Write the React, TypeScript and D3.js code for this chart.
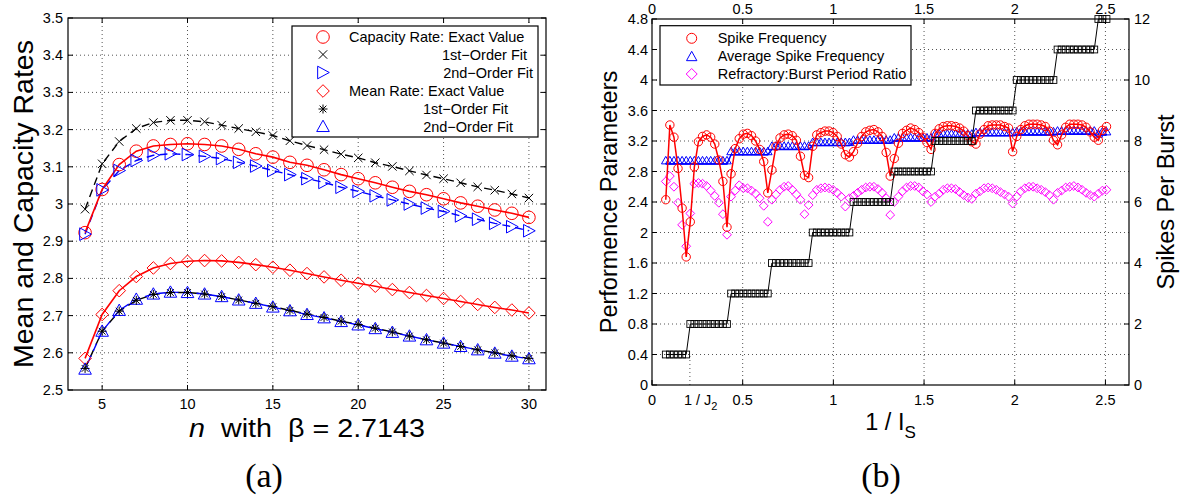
import React from "react";
import * as d3 from "d3";

const W = 1186;
const H = 500;
const SANS = "'Liberation Sans', Arial, Helvetica, sans-serif";
const SERIF = "'Liberation Serif', 'Times New Roman', serif";

// ---------- panel (a): rates versus n ----------
const nValues = [4, 5, 6, 7, 8, 9, 10, 11, 12, 13, 14, 15, 16, 17, 18, 19, 20, 21, 22, 23, 24, 25, 26, 27, 28, 29, 30];
const capacityExact = [2.923, 3.039, 3.106, 3.142, 3.156, 3.160, 3.162, 3.160, 3.156, 3.147, 3.135, 3.126, 3.112, 3.104, 3.092, 3.079, 3.068, 3.057, 3.045, 3.034, 3.025, 3.014, 3.003, 2.994, 2.984, 2.975, 2.964];
const capacityFit1 = [2.986, 3.108, 3.168, 3.203, 3.219, 3.225, 3.225, 3.221, 3.212, 3.203, 3.194, 3.184, 3.170, 3.157, 3.146, 3.134, 3.124, 3.111, 3.101, 3.089, 3.078, 3.068, 3.057, 3.046, 3.037, 3.027, 3.016];
const capacityFit2 = [2.919, 3.038, 3.090, 3.117, 3.131, 3.135, 3.133, 3.128, 3.122, 3.112, 3.102, 3.090, 3.079, 3.068, 3.058, 3.045, 3.034, 3.022, 3.011, 3.000, 2.989, 2.980, 2.968, 2.959, 2.948, 2.939, 2.928];
const meanExact = [2.585, 2.703, 2.767, 2.805, 2.828, 2.840, 2.846, 2.848, 2.847, 2.843, 2.837, 2.830, 2.822, 2.813, 2.804, 2.795, 2.787, 2.779, 2.770, 2.762, 2.754, 2.746, 2.738, 2.730, 2.722, 2.715, 2.707];
const meanFit1 = [2.558, 2.658, 2.712, 2.741, 2.757, 2.762, 2.762, 2.758, 2.751, 2.742, 2.733, 2.724, 2.714, 2.704, 2.695, 2.685, 2.676, 2.666, 2.656, 2.645, 2.635, 2.626, 2.617, 2.608, 2.600, 2.592, 2.585];
const meanFit2 = [2.556, 2.658, 2.714, 2.744, 2.758, 2.763, 2.762, 2.758, 2.751, 2.742, 2.733, 2.723, 2.713, 2.703, 2.694, 2.684, 2.675, 2.665, 2.655, 2.645, 2.635, 2.626, 2.617, 2.608, 2.599, 2.591, 2.584];
const xTicksA = [5, 10, 15, 20, 25, 30];
const yTicksA = [2.5, 2.6, 2.7, 2.8, 2.9, 3, 3.1, 3.2, 3.3, 3.4, 3.5];

// ---------- panel (b): burst parameters versus 1/I_S ----------
const I_S_FIRST = 0.076;
const I_S_STEP = 0.0225;
const spikeFrequency = [
  2.43, 3.41, 3.25, 2.84, 2.32, 1.68,
  2.14, 2.86, 3.19, 3.26, 3.28, 3.25, 3.16, 2.95, 2.67, 2.07,
  2.77, 3.10, 3.23, 3.29, 3.30, 3.27, 3.20, 3.09, 2.93, 2.52,
  2.82, 3.13, 3.24, 3.28, 3.29, 3.27, 3.21, 3.00, 2.75, 2.72,
  3.13, 3.28, 3.31, 3.33, 3.33, 3.31, 3.26, 3.16, 3.02, 2.99,
  3.06, 3.17, 3.26, 3.32, 3.34, 3.35, 3.32, 3.26, 3.05, 2.74,
  2.97, 3.17, 3.30, 3.34, 3.37, 3.35, 3.31, 3.25, 3.18, 3.09,
  3.30, 3.36, 3.39, 3.40, 3.40, 3.39, 3.37, 3.33, 3.27, 3.19,
  3.16, 3.29, 3.35, 3.40, 3.41, 3.41, 3.41, 3.39, 3.37, 3.06,
  3.26, 3.35, 3.40, 3.42, 3.42, 3.42, 3.41, 3.39, 3.33, 3.21,
  3.15, 3.28, 3.38, 3.42, 3.42, 3.42, 3.41, 3.38, 3.32, 3.25,
  3.21, 3.34, 3.39,
];
const avgSpikeFrequency = [
  2.90, 2.90, 2.90, 2.90, 2.90, 2.90,
  2.90, 2.90, 2.90, 2.90, 2.90, 2.90, 2.90, 2.90, 2.90, 2.90,
  3.02, 3.02, 3.02, 3.02, 3.02, 3.02, 3.02, 3.02, 3.02, 3.02,
  3.09, 3.09, 3.09, 3.09, 3.09, 3.09, 3.09, 3.09, 3.09, 3.09,
  3.14, 3.14, 3.14, 3.14, 3.14, 3.14, 3.14, 3.14, 3.14, 3.14,
  3.17, 3.17, 3.17, 3.17, 3.17, 3.17, 3.17, 3.17, 3.17, 3.17,
  3.20, 3.20, 3.20, 3.20, 3.20, 3.20, 3.20, 3.20, 3.20, 3.20,
  3.25, 3.25, 3.25, 3.25, 3.25, 3.25, 3.25, 3.25, 3.25, 3.25,
  3.27, 3.27, 3.27, 3.27, 3.27, 3.27, 3.27, 3.27, 3.27, 3.27,
  3.28, 3.28, 3.28, 3.28, 3.28, 3.28, 3.28, 3.28, 3.28, 3.28,
  3.29, 3.29, 3.29, 3.29, 3.29, 3.29, 3.29, 3.29, 3.29, 3.29,
  3.25, 3.28, 3.28,
];
const refractoryRatio = [
  2.67, 2.74, 2.60, 2.39, 2.10, 1.82,
  2.25, 2.64, 2.65, 2.64, 2.61, 2.55, 2.48, 2.39, 2.24, 1.97,
  2.47, 2.55, 2.62, 2.58, 2.58, 2.55, 2.51, 2.45, 2.35, 2.14,
  2.43, 2.50, 2.56, 2.60, 2.61, 2.56, 2.50, 2.43, 2.24, 2.36,
  2.49, 2.56, 2.58, 2.59, 2.58, 2.56, 2.52, 2.47, 2.34, 2.45,
  2.48, 2.52, 2.56, 2.59, 2.60, 2.60, 2.57, 2.52, 2.45, 2.23,
  2.40, 2.47, 2.54, 2.59, 2.61, 2.61, 2.59, 2.54, 2.50, 2.40,
  2.47, 2.51, 2.56, 2.58, 2.58, 2.57, 2.53, 2.49, 2.46, 2.44,
  2.51, 2.54, 2.58, 2.59, 2.58, 2.56, 2.53, 2.50, 2.47, 2.38,
  2.47, 2.54, 2.58, 2.60, 2.60, 2.58, 2.56, 2.53, 2.49, 2.43,
  2.52, 2.55, 2.59, 2.60, 2.61, 2.59, 2.56, 2.52, 2.49, 2.47,
  2.51, 2.55, 2.56,
];
const spikesPerBurst = [
  1, 1, 1, 1, 1, 1,
  2, 2, 2, 2, 2, 2, 2, 2, 2, 2,
  3, 3, 3, 3, 3, 3, 3, 3, 3, 3,
  4, 4, 4, 4, 4, 4, 4, 4, 4, 4,
  5, 5, 5, 5, 5, 5, 5, 5, 5, 5,
  6, 6, 6, 6, 6, 6, 6, 6, 6, 6,
  7, 7, 7, 7, 7, 7, 7, 7, 7, 7,
  8, 8, 8, 8, 8, 8, 8, 8, 8, 8,
  9, 9, 9, 9, 9, 9, 9, 9, 9, 9,
  10, 10, 10, 10, 10, 10, 10, 10, 10, 10,
  11, 11, 11, 11, 11, 11, 11, 11, 11, 11,
  12, 12, 12,
];
const invJ2 = 0.209;
const xTicksB = [0, 0.5, 1, 1.5, 2, 2.5];
const yTicksB = [0, 0.4, 0.8, 1.2, 1.6, 2, 2.4, 2.8, 3.2, 3.6, 4, 4.4, 4.8];
const yTicksB2 = [0, 2, 4, 6, 8, 10, 12];

const invIs = spikeFrequency.map((_, i) => I_S_FIRST + I_S_STEP * i);

// ---------- frames and scales ----------
const A = { left: 68, right: 546, top: 18, bottom: 390 };
const B = { left: 652, right: 1129, top: 19, bottom: 385 };

const xA = d3.scaleLinear().domain([3, 31]).range([A.left, A.right]);
const yA = d3.scaleLinear().domain([2.5, 3.5]).range([A.bottom, A.top]);
const xB = d3.scaleLinear().domain([0, 2.63]).range([B.left, B.right]);
const yB = d3.scaleLinear().domain([0, 4.8]).range([B.bottom, B.top]);
const yB2 = d3.scaleLinear().domain([0, 12]).range([B.bottom, B.top]);

const fmt = (v: number) => String(+v.toFixed(2));

const lineA = (ys: number[]) =>
  d3.line<number>().x((_, i) => xA(nValues[i])).y((v) => yA(v))(ys) || "";
const lineB = (ys: number[], sc: d3.ScaleLinear<number, number>) =>
  d3.line<number>().x((_, i) => xB(invIs[i])).y((v) => sc(v))(ys) || "";

// ---------- marker shapes ----------
type MP = { x: number; y: number; s: number; c: string; w?: number };
const Circ = ({ x, y, s, c, w = 1 }: MP) => (
  <circle cx={x} cy={y} r={s} fill="none" stroke={c} strokeWidth={w} />
);
const XMark = ({ x, y, s, c, w = 1 }: MP) => (
  <path d={`M${x - s},${y - s}L${x + s},${y + s}M${x - s},${y + s}L${x + s},${y - s}`} stroke={c} strokeWidth={w} fill="none" />
);
const Star = ({ x, y, s, c, w = 1 }: MP) => {
  const d = s * 0.75;
  return (
    <path
      d={`M${x - s},${y}L${x + s},${y}M${x},${y - s}L${x},${y + s}M${x - d},${y - d}L${x + d},${y + d}M${x - d},${y + d}L${x + d},${y - d}`}
      stroke={c}
      strokeWidth={w}
      fill="none"
    />
  );
};
const TriRight = ({ x, y, s, c, w = 1 }: MP) => (
  <polygon points={`${x - s * 0.85},${y - s} ${x - s * 0.85},${y + s} ${x + s},${y}`} fill="none" stroke={c} strokeWidth={w} />
);
const TriUp = ({ x, y, s, c, w = 1 }: MP) => (
  <polygon points={`${x - s},${y + s * 0.8} ${x + s},${y + s * 0.8} ${x},${y - s}`} fill="none" stroke={c} strokeWidth={w} />
);
// triangle standing on its data point
const TriUpBase = ({ x, y, s, c, w = 1 }: MP) => (
  <polygon points={`${x - s},${y} ${x + s},${y} ${x},${y - s * 1.75}`} fill="none" stroke={c} strokeWidth={w} />
);
const Diam = ({ x, y, s, c, w = 1 }: MP) => (
  <polygon points={`${x},${y - s} ${x + s},${y} ${x},${y + s} ${x - s},${y}`} fill="none" stroke={c} strokeWidth={w} />
);
const Sq = ({ x, y, s, c, w = 1 }: MP) => (
  <rect x={x - s} y={y - s} width={2 * s} height={2 * s} fill="none" stroke={c} strokeWidth={w} />
);

const GRID = { stroke: "#555", strokeWidth: 1, strokeDasharray: "1 3", fill: "none" };
const TICK = 5;

function PanelA() {
  return (
    <g>
      {/* grid */}
      {xTicksA.map((t) => (
        <line key={"gx" + t} x1={xA(t)} x2={xA(t)} y1={A.top} y2={A.bottom} {...GRID} />
      ))}
      {yTicksA.slice(1, -1).map((t) => (
        <line key={"gy" + t} x1={A.left} x2={A.right} y1={yA(t)} y2={yA(t)} {...GRID} />
      ))}

      {/* curves */}
      <path d={lineA(capacityFit1)} stroke="#000" strokeWidth={1.4} strokeDasharray="8 5" fill="none" />
      <path d={lineA(capacityFit2)} stroke="#00f" strokeWidth={1.4} strokeDasharray="8 5" fill="none" />
      <path d={lineA(capacityExact)} stroke="#f00" strokeWidth={1.6} fill="none" />
      <path d={lineA(meanFit1)} stroke="#000" strokeWidth={1.4} strokeDasharray="8 5" fill="none" />
      <path d={lineA(meanFit2)} stroke="#00f" strokeWidth={1.4} strokeDasharray="8 5" strokeDashoffset={6} fill="none" />
      <path d={lineA(meanExact)} stroke="#f00" strokeWidth={1.6} fill="none" />

      {/* markers */}
      {nValues.map((n, i) => (
        <g key={"m" + n}>
          <Circ x={xA(n)} y={yA(capacityExact[i])} s={6.3} c="#f00" />
          <XMark x={xA(n)} y={yA(capacityFit1[i])} s={4.2} c="#000" />
          <TriRight x={xA(n)} y={yA(capacityFit2[i])} s={6.3} c="#00f" />
          <Diam x={xA(n)} y={yA(meanExact[i])} s={6.3} c="#f00" />
          <TriUp x={xA(n)} y={yA(meanFit2[i])} s={6.3} c="#00f" />
          <Star x={xA(n)} y={yA(meanFit1[i])} s={4.5} c="#000" />
        </g>
      ))}

      {/* frame and ticks */}
      <rect x={A.left} y={A.top} width={A.right - A.left} height={A.bottom - A.top} fill="none" stroke="#000" strokeWidth={1.2} />
      {xTicksA.map((t) => (
        <g key={"tx" + t}>
          <line x1={xA(t)} x2={xA(t)} y1={A.bottom} y2={A.bottom - TICK} stroke="#000" />
          <line x1={xA(t)} x2={xA(t)} y1={A.top} y2={A.top + TICK} stroke="#000" />
          <text x={xA(t)} y={408.5} textAnchor="middle" fontSize={14.5} fontFamily={SANS}>{fmt(t)}</text>
        </g>
      ))}
      {yTicksA.map((t) => (
        <g key={"ty" + t}>
          <line x1={A.left} x2={A.left + TICK} y1={yA(t)} y2={yA(t)} stroke="#000" />
          <line x1={A.right} x2={A.right - TICK} y1={yA(t)} y2={yA(t)} stroke="#000" />
          <text x={63} y={yA(t) + 5} textAnchor="end" fontSize={14.5} fontFamily={SANS}>{fmt(t)}</text>
        </g>
      ))}

      {/* legend */}
      <rect x={292} y={26} width={246} height={111} fill="#fff" stroke="#000" strokeWidth={1.2} />
      <Circ x={323} y={37} s={6.3} c="#f00" />
      <XMark x={323} y={54.5} s={4.2} c="#000" />
      <TriRight x={323} y={72.5} s={6.3} c="#00f" />
      <Diam x={323} y={91} s={6.3} c="#f00" />
      <Star x={323} y={109} s={4.5} c="#000" />
      <TriUp x={323} y={126.5} s={6.3} c="#00f" />
      <g fontSize={14.5} fontFamily={SANS}>
        <text x={349} y={42}>Capacity Rate: Exact Value</text>
        <text x={527} y={59.5} textAnchor="end">1st−Order Fit</text>
        <text x={533} y={77.5} textAnchor="end">2nd−Order Fit</text>
        <text x={349} y={96}>Mean Rate: Exact Value</text>
        <text x={508} y={114} textAnchor="end">1st−Order Fit</text>
        <text x={513} y={131.5} textAnchor="end">2nd−Order Fit</text>
      </g>

      {/* labels */}
      <text transform={`translate(32.5,${(A.top + A.bottom) / 2}) rotate(-90)`} textAnchor="middle" fontSize={28.5} fontFamily={SANS}>
        Mean and Capacity Rates
      </text>
      <text
        x={(A.left + A.right) / 2}
        y={437}
        textAnchor="middle"
        fontSize={26}
        fontFamily={SANS}
        textLength={236}
        lengthAdjust="spacingAndGlyphs"
        xmlSpace="preserve"
        style={{ whiteSpace: "pre" }}
      >
        <tspan fontStyle="italic">n</tspan>{"  with  β = 2.7143"}
      </text>
      <text x={264} y={487} textAnchor="middle" fontSize={34} fontFamily={SERIF}>(a)</text>
    </g>
  );
}

function PanelB() {
  return (
    <g>
      {/* grid */}
      {xTicksB.slice(1).map((t) => (
        <line key={"gx" + t} x1={xB(t)} x2={xB(t)} y1={B.top} y2={B.bottom} {...GRID} />
      ))}
      {yTicksB.slice(1, -1).map((t) => (
        <line key={"gy" + t} x1={B.left} x2={B.right} y1={yB(t)} y2={yB(t)} {...GRID} />
      ))}
      <line x1={xB(invJ2)} x2={xB(invJ2)} y1={yB2(0)} y2={yB2(1)} {...GRID} />

      {/* refractory : burst period ratio */}
      {refractoryRatio.map((v, i) => (
        <Diam key={"d" + i} x={xB(invIs[i])} y={yB(v)} s={4.4} c="#f0f" />
      ))}
      {/* average spike frequency */}
      <path d={lineB(avgSpikeFrequency, yB)} stroke="#00f" strokeWidth={1.5} fill="none" />
      {avgSpikeFrequency.map((v, i) => (
        <TriUpBase key={"t" + i} x={xB(invIs[i])} y={yB(v)} s={4.3} c="#00f" />
      ))}
      {/* spike frequency */}
      <path d={lineB(spikeFrequency, yB)} stroke="#f00" strokeWidth={1.5} fill="none" />
      {spikeFrequency.map((v, i) => (
        <Circ key={"c" + i} x={xB(invIs[i])} y={yB(v)} s={4.2} c="#f00" />
      ))}
      {/* spikes per burst, right axis */}
      <path d={lineB(spikesPerBurst, yB2)} stroke="#000" strokeWidth={1} fill="none" />
      {spikesPerBurst.map((v, i) => (
        <Sq key={"s" + i} x={xB(invIs[i])} y={yB2(v)} s={3.4} c="#000" w={0.9} />
      ))}

      {/* frame and ticks */}
      <rect x={B.left} y={B.top} width={B.right - B.left} height={B.bottom - B.top} fill="none" stroke="#000" strokeWidth={1.2} />
      {xTicksB.map((t) => (
        <g key={"tx" + t}>
          <line x1={xB(t)} x2={xB(t)} y1={B.bottom} y2={B.bottom - TICK} stroke="#000" />
          <line x1={xB(t)} x2={xB(t)} y1={B.top} y2={B.top + TICK} stroke="#000" />
          <text x={xB(t)} y={405} textAnchor="middle" fontSize={14.5} fontFamily={SANS}>{fmt(t)}</text>
          <text x={xB(t)} y={14} textAnchor="middle" fontSize={14.5} fontFamily={SANS}>{fmt(t)}</text>
        </g>
      ))}
      <text x={xB(invJ2) - 6} y={405} fontSize={14.5} fontFamily={SANS}>
        1 / J<tspan dy={5} fontSize={11}>2</tspan>
      </text>
      {yTicksB.map((t) => (
        <g key={"ty" + t}>
          <line x1={B.left} x2={B.left + TICK} y1={yB(t)} y2={yB(t)} stroke="#000" />
          <text x={648} y={yB(t) + 5} textAnchor="end" fontSize={14.5} fontFamily={SANS}>{fmt(t)}</text>
        </g>
      ))}
      {yTicksB2.map((t) => (
        <g key={"tr" + t}>
          <line x1={B.right} x2={B.right - TICK} y1={yB2(t)} y2={yB2(t)} stroke="#000" />
          <text x={1134} y={yB2(t) + 5} fontSize={14.5} fontFamily={SANS}>{fmt(t)}</text>
        </g>
      ))}

      {/* legend */}
      <rect x={660} y={25.7} width={251} height={59.3} fill="#fff" stroke="#000" strokeWidth={1.2} />
      <Circ x={691.7} y={38.3} s={5} c="#f00" />
      <TriUp x={691.7} y={56.5} s={5.2} c="#00f" />
      <Diam x={691.7} y={74} s={5.5} c="#f0f" />
      <g fontSize={14.5} fontFamily={SANS}>
        <text x={717.7} y={43.3}>Spike Frequency</text>
        <text x={717.7} y={61}>Average Spike Frequency</text>
        <text x={717.7} y={79}>Refractory:Burst Period Ratio</text>
      </g>

      {/* labels */}
      <text transform={`translate(617,${(B.top + B.bottom) / 2}) rotate(-90)`} textAnchor="middle" fontSize={23.5} fontFamily={SANS}>
        Performence Parameters
      </text>
      <text transform={`translate(1173.5,${(B.top + B.bottom) / 2}) rotate(-90)`} textAnchor="middle" fontSize={23.5} fontFamily={SANS}>
        Spikes Per Burst
      </text>
      <text x={(B.left + B.right) / 2} y={430} textAnchor="middle" fontSize={23.5} fontFamily={SANS}>
        1 / I<tspan dy={8} fontSize={17}>S</tspan>
      </text>
      <text x={881} y={487} textAnchor="middle" fontSize={34} fontFamily={SERIF}>(b)</text>
    </g>
  );
}

export default function App() {
  return (
    <svg
      width={W}
      height={H}
      viewBox={`0 0 ${W} ${H}`}
      style={{ position: "absolute", left: 0, top: 0, display: "block", background: "#fff" }}
    >
      <rect x={0} y={0} width={W} height={H} fill="#fff" />
      <PanelA />
      <PanelB />
    </svg>
  );
}
